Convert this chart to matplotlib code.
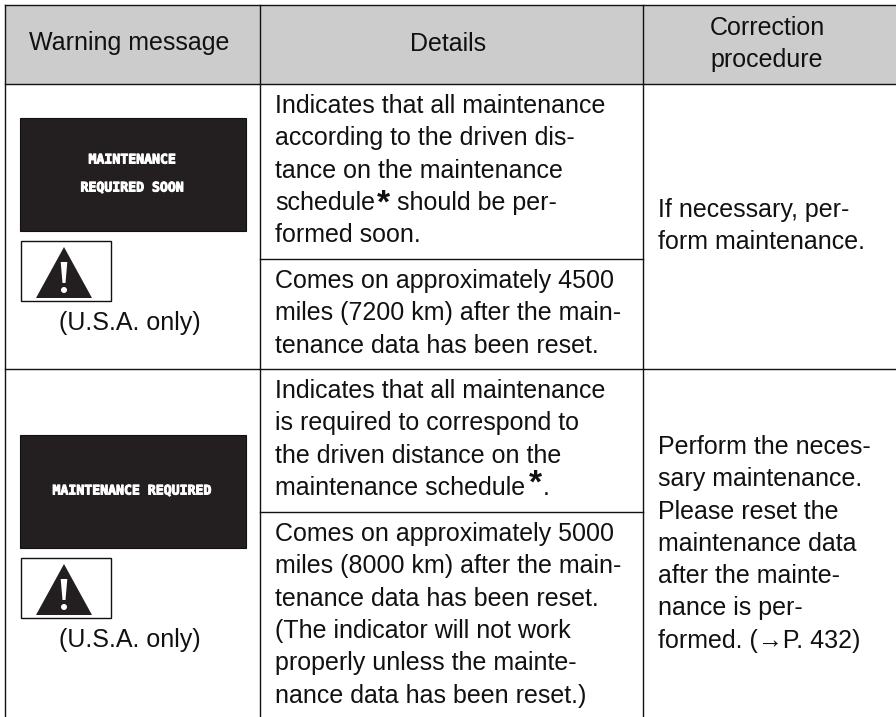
"""Warning message table drawn on a pixel-sized axes."""
import matplotlib
matplotlib.use('Agg')
import matplotlib.pyplot as plt
import matplotlib.patheffects as pe
from matplotlib.patches import Polygon, Rectangle, Circle

W, H = 896, 717
FONT = 'Liberation Sans'
INK = '#111111'; DARK = '#231F20'; HEAD = '#CCCCCC'

headers = ['Warning message', 'Details', 'Correction', 'procedure']
details_1 = ['Indicates that all maintenance', 'according to the driven dis-', 'tance on the maintenance',
             'schedule', 'formed soon.']
details_2 = ['Comes on approximately 4500', 'miles (7200 km) after the main-', 'tenance data has been reset.']
details_3 = ['Indicates that all maintenance', 'is required to correspond to', 'the driven distance on the',
             'maintenance schedule']
details_4 = ['Comes on approximately 5000', 'miles (8000 km) after the main-', 'tenance data has been reset.',
             '(The indicator will not work', 'properly unless the mainte-', 'nance data has been reset.)']
fix_1 = ['If necessary, per-', 'form maintenance.']
fix_2 = ['Perform the neces-', 'sary maintenance.', 'Please reset the', 'maintenance data', 'after the mainte-',
         'nance is per-', 'formed. (\u2192P. 432)']
screen_1 = ['MAINTENANCE', 'REQUIRED SOON']
screen_2 = ['MAINTENANCE REQUIRED']
region = '(U.S.A. only)'

X0, X1, X2 = 4.5, 259.5, 642.5
Y0, Y1, Y2, Y3, Y4 = 4.5, 83.5, 258.5, 368.5, 511.5
PITCH = 32.3
FS = 18.0


def label(ax, x, y, s, **kw):
    ax.text(x, y, s, fontsize=kw.pop('fontsize', FS), family=FONT, color=INK, va='baseline', **kw)


def block(ax, lines, x, y_first):
    for i, s in enumerate(lines):
        label(ax, x, y_first + i * PITCH, s)


def warning(ax, y_top, lines):
    ax.add_patch(Rectangle((19.5, y_top), 226, 113, fc=DARK, ec='#111111', lw=0.8))
    mid = y_top + 56
    offs = [-14, 14] if len(lines) == 2 else [0]
    for s, o in zip(lines, offs):
        ax.text(132.5, mid + o, s, color='white', fontsize=9.5, family='DejaVu Sans Mono',
                fontweight='bold', ha='center', va='center',
                path_effects=[pe.withStroke(linewidth=0.7, foreground='white')])
    by = y_top + 123
    ax.add_patch(Rectangle((20.5, by), 90, 60, fc='white', ec='#111111', lw=1))
    ax.add_patch(Polygon([(64, by + 6), (36, by + 57), (92, by + 57)], closed=True, fc=DARK, ec='none'))
    ax.add_patch(Polygon([(60.7, by + 21), (67.3, by + 21), (65.5, by + 42), (62.5, by + 42)],
                         closed=True, fc='white', ec='none'))
    ax.add_patch(Circle((64, by + 49), 3, fc='white', ec='none'))
    label(ax, 129.5, by + 89, region, ha='center')


fig = plt.figure(figsize=(W / 100, H / 100), dpi=100)
ax = fig.add_axes([0, 0, 1, 1])
ax.set_xlim(0, W); ax.set_ylim(H, 0); ax.axis('off')

ax.add_patch(Rectangle((X0, Y0), W - X0, Y1 - Y0, fc=HEAD, ec='none'))
for x in (X0, X1, X2):
    ax.plot([x, x], [Y0, H], color=INK, lw=1)
for y in (Y0, Y1, Y3):
    ax.plot([X0, W], [y, y], color=INK, lw=1)
for y in (Y2, Y4):
    ax.plot([X1, X2], [y, y], color=INK, lw=1)

label(ax, 129, 50, headers[0], ha='center')
label(ax, 448, 51, headers[1], ha='center')
label(ax, 767, 35, headers[2], ha='center')
label(ax, 767, 67, headers[3], ha='center')

block(ax, details_1, 275, 113)
block(ax, details_2, 275, 288)
block(ax, details_3, 275, 398)
block(ax, details_4, 275, 541)
block(ax, fix_1, 658, 216.5)
block(ax, fix_2, 658, 454)

# footnote stars and the text that follows them
label(ax, 377, 213, '*', fontsize=24, fontweight='bold')
label(ax, 397, 210, 'should be per-')
label(ax, 529, 493, '*', fontsize=24, fontweight='bold')
label(ax, 543, 495, '.')

warning(ax, 118, screen_1)
warning(ax, 435, screen_2)

fig.savefig('out.png', dpi=100, facecolor='white')
